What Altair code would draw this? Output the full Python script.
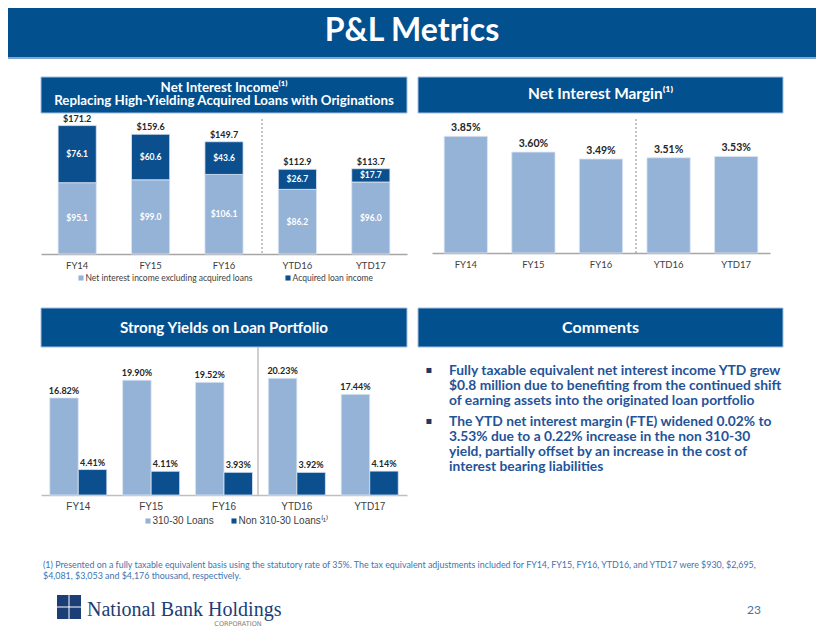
import altair as alt
import pandas as pd

# ---------------- data ----------------
years = ["FY14", "FY15", "FY16", "YTD16", "YTD17"]
nii_excl = [95.1, 99.0, 106.1, 86.2, 96.0]
nii_acq = [76.1, 60.6, 43.6, 26.7, 17.7]
nii_total = [171.2, 159.6, 149.7, 112.9, 113.7]
nim = [3.85, 3.60, 3.49, 3.51, 3.53]
yld_31030 = [16.82, 19.90, 19.52, 20.23, 17.44]
yld_non = [4.41, 4.11, 3.93, 3.92, 4.14]

nii_series = ["Net interest income excluding acquired loans", "Acquired loan income"]
yld_series = ["310-30 Loans", "Non 310-30 Loans⁽¹⁾"]

comment1 = ["Fully taxable equivalent net interest income YTD grew",
            "$0.8 million due to benefiting from the continued shift",
            "of earning assets into the originated loan portfolio"]
comment2 = ["The YTD net interest margin (FTE) widened 0.02% to",
            "3.53% due to a 0.22% increase in the non 310-30",
            "yield, partially offset by an increase in the cost of",
            "interest bearing liabilities"]
footnote = ["(1)  Presented on a fully taxable equivalent basis using the statutory rate of 35%. The tax equivalent adjustments included for FY14, FY15, FY16, YTD16, and YTD17 were $930, $2,695,",
            "$4,081, $3,053 and $4,176 thousand, respectively."]

# ---------------- style ----------------
BLUE = "#03508F"
DARK = "#0B4F8E"
LIGHT = "#95B3D7"
GOTH = "Lato"
ARIAL = "Liberation Sans"
TXTBLUE = "#1F5499"

one = pd.DataFrame({"k": [0]})


def rect(x0, x1, y0, y1, color, **kw):
    return alt.Chart(one).mark_rect(color=color, **kw).encode(
        x=alt.value(x0), x2=alt.value(x1), y=alt.value(y0), y2=alt.value(y1))


def label(x, y, text, **kw):
    return alt.Chart(one).mark_text(**kw).encode(
        x=alt.value(x), y=alt.value(y), text=alt.value(text))


def vrule(x, y0, y1, **kw):
    return alt.Chart(one).mark_rule(**kw).encode(
        x=alt.value(x), y=alt.value(y0), y2=alt.value(y1))


def banner(x0, x1, h, text, ty, size, lh=14):
    return [rect(x0, x1, 0, h, BLUE, stroke="#A3BFE2", strokeWidth=1),
            label((x0 + x1) / 2, ty, text, color="white", font=GOTH, fontWeight="bold",
                  fontSize=size, align="center", baseline="middle", lineHeight=lh)]


def legend_item(x, y, color, text, font, size):
    return [alt.Chart(one).mark_square(color=color, size=26, opacity=1).encode(
                x=alt.value(x), y=alt.value(y)),
            label(x + 4.5, y, text, color="#404040", font=font, fontSize=size,
                  align="left", baseline="middle")]


# ---------------- header ----------------
header = alt.layer(
    rect(0, 808, 0, 49, BLUE),
    rect(0, 808, 49, 51, "#7FA6D4"),
    label(404, 23, "P&L Metrics", color="white", font=GOTH, fontWeight="bold",
          fontSize=32, align="center", baseline="middle"),
).properties(width=808, height=68)

# ---------------- Net interest income ----------------
nii_long = pd.DataFrame({
    "year": years * 2,
    "series": [nii_series[0]] * 5 + [nii_series[1]] * 5,
    "value": nii_excl + nii_acq,
    "ord": [0] * 5 + [1] * 5,
    "mid": [v / 2 for v in nii_excl] + [e + a / 2 for e, a in zip(nii_excl, nii_acq)],
    "label": ["$%.1f" % v for v in nii_excl + nii_acq],
})
nii_tot = pd.DataFrame({"year": years, "total": nii_total,
                        "label": ["$%.1f" % v for v in nii_total]})

x_nii = alt.X("year:N", sort=years, title=None,
              scale=alt.Scale(range=[33, 399], paddingInner=0.48, paddingOuter=0.233),
              axis=alt.Axis(offset=-53, labelAngle=0, ticks=False, grid=False,
                            domainColor="#A6A6A6", domainWidth=1.5, labelColor="#404040",
                            labelFont=GOTH, labelFontSize=9.5, labelPadding=6))
x_nii_s = alt.X("year:N", sort=years)
ys_nii = alt.Scale(domain=[0, 236], range=[177, 0])

nii_bars = alt.Chart(nii_long).mark_bar(stroke="#DCE6F2", strokeWidth=0.8).encode(
    x=x_nii,
    y=alt.Y("value:Q", stack="zero", scale=ys_nii, axis=None),
    color=alt.Color("series:N", scale=alt.Scale(domain=nii_series, range=[LIGHT, DARK]),
                    legend=None),
    order=alt.Order("ord:Q"),
)
nii_seg = alt.Chart(nii_long).mark_text(color="white", font=GOTH, fontWeight="bold",
                                        fontSize=8.5, baseline="middle").encode(
    x=x_nii_s, y=alt.Y("mid:Q", scale=ys_nii, axis=None), text="label:N")
nii_totl = alt.Chart(nii_tot).mark_text(dy=-7, color="#262626", font=GOTH, fontWeight="bold",
                                         fontSize=9, baseline="middle").encode(
    x=x_nii_s, y=alt.Y("total:Q", scale=ys_nii, axis=None), text="label:N")

nii = alt.layer(
    *banner(33, 399, 36, ["Net Interest Income⁽¹⁾",
                          "Replacing High-Yielding Acquired Loans with Originations"], 10.7, 13.3, 13.4),
    nii_bars, nii_seg, nii_totl,
    vrule(254, 42, 177, color="#8C8C8C", strokeDash=[2, 2], strokeWidth=1),
    *legend_item(73, 201, LIGHT, nii_series[0], GOTH, 8.5),
    *legend_item(280, 201, DARK, nii_series[1], GOTH, 8.5),
).properties(width=404, height=230)

# ---------------- Net interest margin ----------------
nim_df = pd.DataFrame({"year": years, "nim": nim, "label": ["%.2f%%" % v for v in nim]})
x_nim = alt.X("year:N", sort=years, title=None,
              scale=alt.Scale(range=[20, 358], paddingInner=0.36, paddingOuter=0.18),
              axis=alt.Axis(offset=-54, labelAngle=0, ticks=False, grid=False,
                            domainColor="#A6A6A6", domainWidth=1.5, labelColor="#404040",
                            labelFont=GOTH, labelFontSize=9.5, labelPadding=6))
ys_nim = alt.Scale(domain=[2.0, 4.79], range=[176, 0])
nim_bars = alt.Chart(nim_df).mark_bar(color=LIGHT, stroke="#DCE6F2", strokeWidth=0.8).encode(
    x=x_nim, y=alt.Y("nim:Q", scale=ys_nim, axis=None), y2=alt.datum(2.0))
nim_lab = alt.Chart(nim_df).mark_text(dy=-8, color="#262626", font=GOTH, fontWeight="bold",
                                      fontSize=10.5, baseline="middle").encode(
    x=alt.X("year:N", sort=years), y=alt.Y("nim:Q", scale=ys_nim, axis=None), text="label:N")

nimc = alt.layer(
    *banner(6, 371, 36, "Net Interest Margin⁽¹⁾", 17, 15.4),
    nim_bars, nim_lab,
    vrule(224, 42, 176, color="#8C8C8C", strokeDash=[2, 2], strokeWidth=1),
).properties(width=404, height=230)

# ---------------- Yields ----------------
yl_df = pd.DataFrame({
    "year": years * 2,
    "series": [yld_series[0]] * 5 + [yld_series[1]] * 5,
    "value": yld_31030 + yld_non,
    "label": ["%.2f%%" % v for v in yld_31030 + yld_non],
})
x_yl = alt.X("year:N", sort=years, title=None,
             scale=alt.Scale(range=[33, 399], paddingInner=0.217, paddingOuter=0.12),
             axis=alt.Axis(offset=-62, labelAngle=0, ticks=False, grid=False,
                           domainColor="#BFBFBF", domainWidth=1.5, labelColor="#404040",
                           labelFont=ARIAL, labelFontSize=10, labelPadding=6))
xo = alt.XOffset("series:N", sort=yld_series, scale=alt.Scale(paddingInner=0, paddingOuter=0))
ys_yl = alt.Scale(domain=[0, 32.4], range=[187, 0])

yl_bars = alt.Chart(yl_df).mark_bar(stroke="#DCE6F2", strokeWidth=0.8).encode(
    x=x_yl, xOffset=xo,
    y=alt.Y("value:Q", scale=ys_yl, axis=None),
    color=alt.Color("series:N", scale=alt.Scale(domain=yld_series, range=[LIGHT, DARK]),
                    legend=None),
)
yl_lab = alt.Chart(yl_df).mark_text(dy=-7, color="#262626", font=GOTH, fontWeight="bold",
                                    fontSize=9, baseline="middle").encode(
    x=alt.X("year:N", sort=years), xOffset=xo,
    y=alt.Y("value:Q", scale=ys_yl, axis=None), text="label:N")

yields = alt.layer(
    *banner(33, 399, 39, "Strong Yields on Loan Portfolio", 20, 15.2),
    yl_bars, yl_lab,
    vrule(250, 39, 187, color="#BFBFBF", strokeWidth=1.5),
    *legend_item(140, 213, LIGHT, yld_series[0], ARIAL, 10),
    *legend_item(226, 213, DARK, yld_series[1], ARIAL, 10),
).properties(width=404, height=249)

# ---------------- Comments ----------------
comments = alt.layer(
    *banner(6, 371, 39, "Comments", 20, 16),
    label(17, 62, "▪", color="#1F3864", font="DejaVu Sans", fontSize=10,
          align="center", baseline="middle"),
    label(17, 113, "▪", color="#1F3864", font="DejaVu Sans", fontSize=10,
          align="center", baseline="middle"),
    label(37, 62.5, comment1, color=TXTBLUE, font=GOTH, fontWeight="bold", fontSize=13.8,
          align="left", baseline="middle", lineHeight=15),
    label(37, 113.5, comment2, color=TXTBLUE, font=GOTH, fontWeight="bold", fontSize=13.8,
          align="left", baseline="middle", lineHeight=15),
).properties(width=404, height=249)

# ---------------- Footer ----------------
NAVY = "#1B3E77"
footer = alt.layer(
    label(35, 8.3, footnote, color="#3F73AF", font=GOTH, fontSize=8.9, align="left",
          baseline="middle", lineHeight=10.7),
    rect(49, 60.5, 38, 49.5, NAVY),
    rect(61.5, 73, 38, 49.5, NAVY),
    rect(49, 60.5, 50.5, 62, NAVY),
    rect(61.5, 73, 50.5, 62, NAVY),
    label(79, 59, "National Bank Holdings", color=NAVY, font="Liberation Serif", fontSize=20,
          align="left", baseline="alphabetic"),
    label(230, 67, "CORPORATION", color="#808080", font="DejaVu Sans", fontSize=6.5,
          align="center", baseline="middle"),
    label(746, 53, "23", color="#3F73AF", font=GOTH, fontSize=12, align="center",
          baseline="middle"),
).properties(width=808, height=74)

chart = alt.vconcat(
    header,
    alt.hconcat(nii, nimc, spacing=0),
    alt.hconcat(yields, comments, spacing=0),
    footer,
    spacing=0,
).properties(padding=0).configure_view(strokeWidth=0)

chart.save("out.html", embed_options={"renderer": "svg", "actions": False})
